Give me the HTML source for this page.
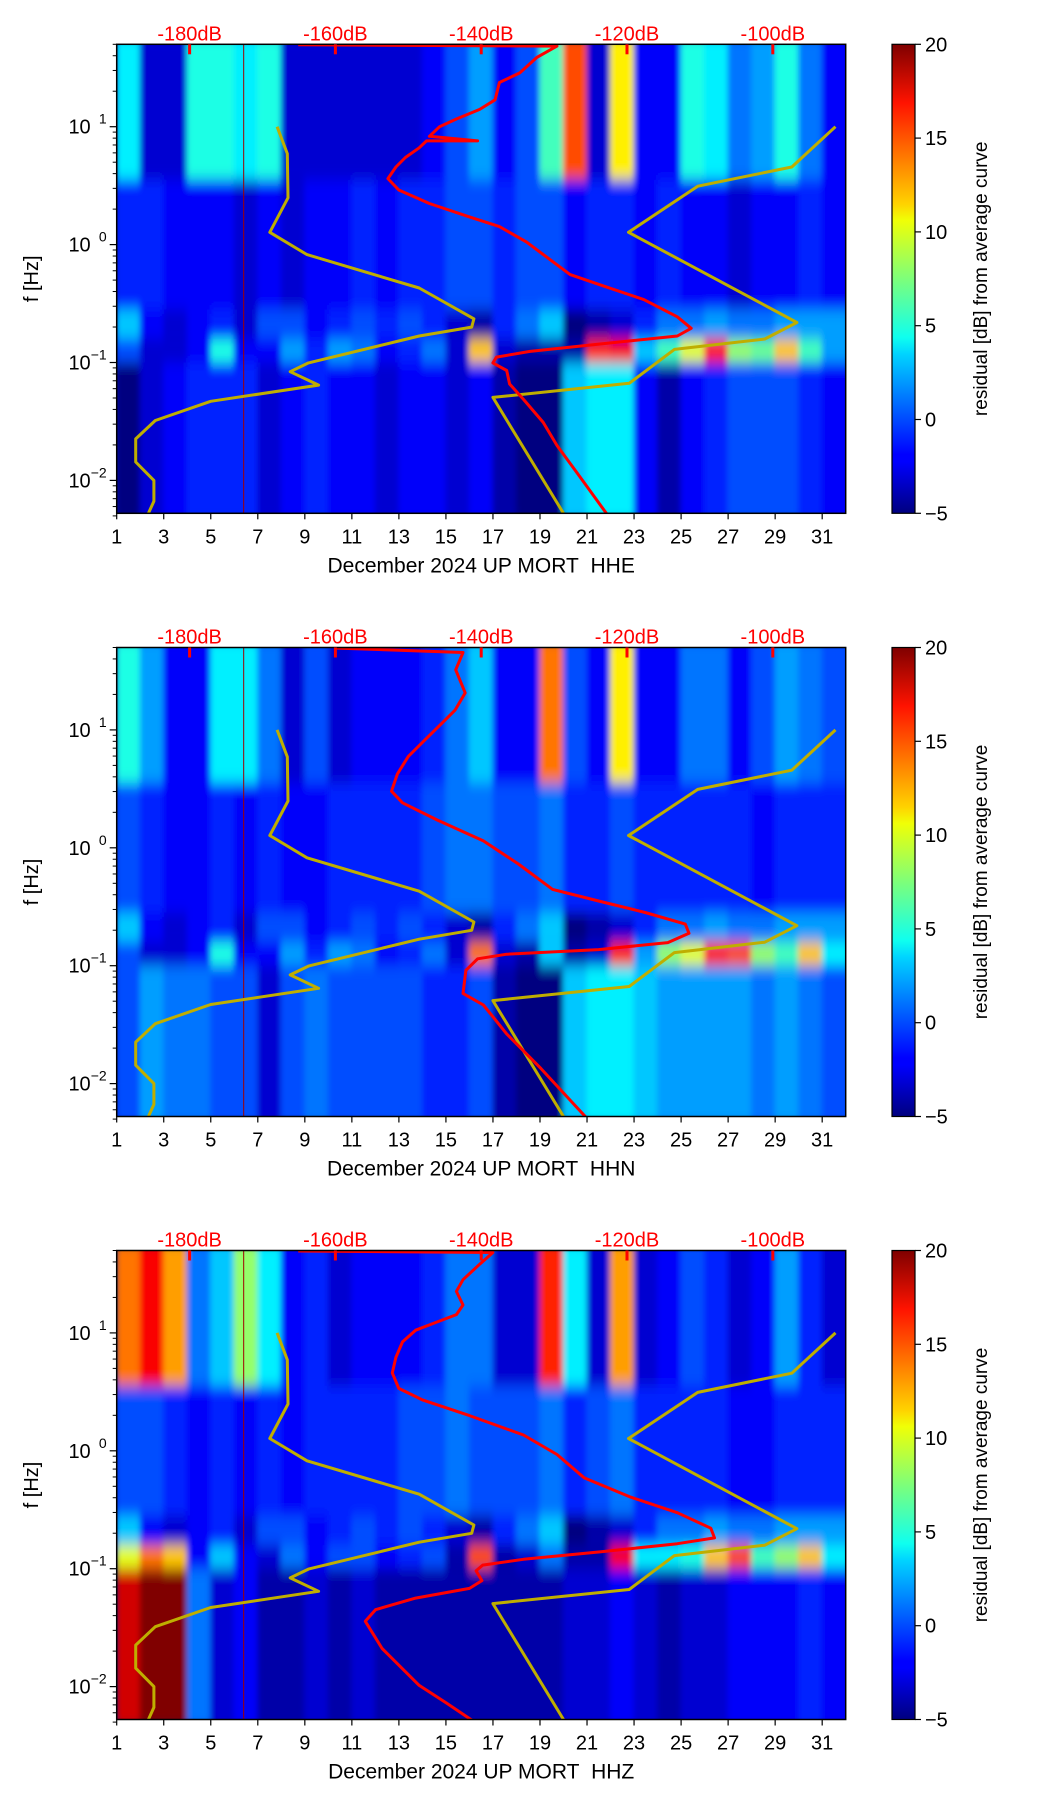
<!DOCTYPE html>
<html><head><meta charset="utf-8">
<style>
html,body{margin:0;padding:0;background:#fff;}
svg{display:block;font-family:"Liberation Sans","DejaVu Sans",sans-serif;}
</style></head>
<body>
<svg id="fig" width="1052" height="1806" viewBox="0 0 1052 1806" xmlns="http://www.w3.org/2000/svg">
<defs>
<filter id="soft" x="-5%" y="-5%" width="110%" height="110%"><feGaussianBlur stdDeviation="3 7"/></filter>
<linearGradient id="jetgrad" x1="0" y1="1" x2="0" y2="0">
<stop offset="0" stop-color="#00007f"/><stop offset="0.11" stop-color="#0000ff"/><stop offset="0.125" stop-color="#0000ff"/>
<stop offset="0.34" stop-color="#00d4ff"/><stop offset="0.375" stop-color="#0fffef"/><stop offset="0.5" stop-color="#7dff7a"/>
<stop offset="0.625" stop-color="#f0ff06"/><stop offset="0.66" stop-color="#ffd200"/><stop offset="0.875" stop-color="#ff1300"/>
<stop offset="1" stop-color="#7f0000"/></linearGradient>
</defs>
</svg>
<script>
// ---- data ----
const days = [1,2,3,4,5,6,7,8,9,10,11,12,13,14,15,16,17,18,19,20,21,22,23,24,25,26,27,28,29,30,31];
const bandEdges = [1.699, 0.55, -0.55, -0.8, -1.0, -2.279];
// HHE residuals per day per band
const hheHF    = [4,-3,-3,5,5,4,5,-3,-3,-3,-3,-3,-3,-2,0,2,-2,0,6,15,-3,11,-2,-2,5,4,1,2,5,1,-2];
const hheMid   = [-1,-1,-2,-2,-2,-3,-2,-3,-2,-2,-1,-2,-1,-1,0,0,-1,0,0,-2,-1,-1,-2,-1,-2,-2,-3,-2,-2,-1,-2];
const hheUpMic = [3,-2,-3,-2,-1,-3,0,0,-2,-1,0,-1,0,-1,-3,-4,-1,1,3,-5,-4,-3,-1,1,1,2,1,1,2,2,2];
const hheMic   = [0,-3,-3,-2,5,-2,-2,2,-1,2,1,-2,-1,1,-3,12,-3,-4,-4,-4,16,17,3,6,10,16,8,7,12,6,2];
const hheLow   = [-5,-3,-2,-1,-1,-1,-3,-2,-1,-2,-2,-3,-2,-2,-3,-2,-4,-5,-5,3,4,4,-2,-4,-2,-1,0,0,0,-1,-2];
// HHN
const hhnHF    = [5,2,-2,-2,4,4,1,-3,0,-3,-2,-2,-2,-1,1,3,-2,-2,14,0,-2,11,-2,-2,1,1,-2,0,2,1,0];
const hhnMid   = [0,-1,-2,-2,-1,-2,-1,-2,-2,-1,-1,-1,-1,0,1,1,0,0,1,-1,-1,0,-1,-1,-1,-1,-1,-2,-1,-1,-1];
const hhnUpMic = [3,-2,-3,-2,-1,-3,0,0,-2,-1,0,-1,0,-1,-3,-4,-1,1,3,-5,-4,-3,-1,1,1,2,1,1,2,2,2];
const hhnMic   = [0,-3,-3,-2,5,-2,-2,2,-1,2,1,-2,-1,1,-3,14,-3,-4,3,-4,-3,16,2,8,10,16,15,8,6,12,4];
const hhnLow   = [0,2,1,1,0,0,-3,0,1,0,0,0,0,-1,-1,0,-4,-5,-5,3,4,4,3,2,2,2,2,1,2,1,0];
// HHZ
const hhzHF    = [14,17,13,1,3,8,4,-2,-1,-3,-2,-2,-2,-1,1,1,-3,-3,16,4,-3,13,-3,-2,0,-1,-3,-2,2,-1,-3];
const hhzMid   = [0,0,-1,-2,-1,-2,-1,-2,-1,-1,-1,-1,0,0,1,0,0,0,1,-1,0,1,-1,-1,-1,-1,-2,-2,-1,-1,-1];
const hhzUpMic = [3,-2,-3,-2,-1,-3,0,0,-2,-1,0,-1,0,-1,-3,-4,-1,1,3,-5,-4,-3,-1,1,1,2,1,1,2,2,2];
const hhzMic   = [10,14,12,-2,3,-2,-3,1,-2,0,0,-2,-1,0,-4,15,-4,-3,1,-4,-4,17,4,4,5,12,15,6,8,12,4];
const hhzLow   = [18,20,20,1,-3,-2,-4,-4,-3,-4,-3,-4,-4,-4,-4,-4,-4,-4,-4,-3,-3,-2,-3,-4,-3,-3,-2,-2,-2,-1,-2];
// noise models (dB, log10 f)
const nlnmDb = [-168.0,-166.6,-166.5,-169.0,-163.9,-148.5,-141.0,-141.3,-148.5,-163.7,-166.2,-162.3,-177.1,-184.7,-187.4,-187.4,-184.9,-184.9,-185.8];
const nlnmLf = [1.0,0.772,0.397,0.104,-0.085,-0.368,-0.629,-0.700,-0.775,-1.003,-1.078,-1.192,-1.329,-1.492,-1.648,-1.844,-2.0,-2.176,-2.30];
const nhnmDb = [-91.4,-97.4,-110.3,-119.8,-96.7,-101.1,-113.5,-119.7,-138.4,-128.5];
const nhnmLf = [1.0,0.658,0.495,0.104,-0.661,-0.801,-0.889,-1.176,-1.296,-2.30];
// average curves
const hheRedDb = [-165.1,-129.6,-132.4,-134.7,-137.5,-138.1,-140.2,-143.4,-145.7,-147.1,-140.5,-147.5,-148.5,-150.4,-151.7,-152.8,-151.3,-147.1,-141.6,-137.5,-133.8,-131.0,-127.8,-123.2,-117.7,-113.1,-111.2,-113.1,-123.2,-133.3,-137.9,-138.4,-136.5,-136.1,-134.2,-131.5,-129.6,-126.9,-122.7];
const hheRedLf = [1.695,1.684,1.586,1.456,1.375,1.228,1.147,1.065,1.0,0.919,0.88,0.88,0.821,0.739,0.658,0.560,0.463,0.349,0.235,0.153,0.023,-0.107,-0.254,-0.352,-0.466,-0.612,-0.710,-0.775,-0.840,-0.906,-0.954,-1.003,-1.068,-1.182,-1.313,-1.508,-1.704,-1.932,-2.29];
const hhnRedDb = [-160.2,-142.5,-143.5,-142.2,-143.6,-145.2,-147.6,-150.0,-151.5,-152.3,-150.8,-146.0,-139.7,-134.9,-130.2,-123.9,-117.5,-112.0,-111.5,-114.4,-123.9,-136.5,-140.5,-142.1,-142.5,-139.7,-136.5,-131.8,-125.5];
const hhnRedLf = [1.695,1.657,1.51,1.314,1.167,1.069,0.922,0.775,0.627,0.480,0.382,0.235,0.059,-0.137,-0.353,-0.451,-0.549,-0.647,-0.725,-0.804,-0.863,-0.902,-0.941,-1.039,-1.235,-1.333,-1.578,-1.873,-2.294];
const hhzRedDb = [-165.1,-138.4,-140.2,-142.5,-143.4,-142.5,-143.4,-146.2,-149.0,-150.8,-151.7,-152.2,-151.3,-148.0,-141.6,-134.2,-129.6,-125.9,-119.5,-113.1,-108.5,-108.0,-113.1,-123.2,-134.2,-139.8,-140.7,-139.9,-141.6,-149.0,-154.5,-155.9,-153.6,-148.5,-144.8,-140.9];
const hhzRedLf = [1.695,1.682,1.583,1.451,1.352,1.237,1.155,1.089,1.023,0.924,0.793,0.661,0.529,0.430,0.299,0.134,-0.031,-0.228,-0.393,-0.525,-0.656,-0.739,-0.788,-0.854,-0.920,-0.969,-1.018,-1.101,-1.167,-1.249,-1.348,-1.446,-1.677,-1.990,-2.138,-2.30];
const xTicks = [1,3,5,7,9,11,13,15,17,19,21,23,25,27,29,31];
const dbTicks = [-180,-160,-140,-120,-100];
const yTickExp = [1,0,-1,-2];
const cbTicks = [20,15,10,5,0,-5];
const titles = ["December 2024 UP MORT\u00a0 HHE","December 2024 UP MORT\u00a0 HHN","December 2024 UP MORT\u00a0 HHZ"];

// ---- layout ----
const L=116.7, R=845.7, H=469, tops=[44.3,647.5,1250.5];
const DMIN=1, DMAX=32, LTOP=1.699, LBOT=-2.279, DBMIN=-190, DBMAX=-90;
const CBL=892, CBR=915, VMIN=-5, VMAX=20;
const NS="http://www.w3.org/2000/svg";
const svg=document.getElementById('fig');
function el(tag,attrs,parent){const e=document.createElementNS(NS,tag);for(const k in attrs)e.setAttribute(k,attrs[k]);(parent||svg).appendChild(e);return e;}
function jet(v){let t=(v-VMIN)/(VMAX-VMIN);t=Math.max(0,Math.min(1,t));
 const f=x=>Math.max(0,Math.min(1,x));
 const r=f(Math.min(4*t-1.5,-4*t+4.5)),g=f(Math.min(4*t-0.5,-4*t+3.5)),b=f(Math.min(4*t+0.5,-4*t+2.5));
 return `rgb(${Math.round(r*255)},${Math.round(g*255)},${Math.round(b*255)})`;}

const panels=[
 {bands:[hheHF,hheMid,hheUpMic,hheMic,hheLow],rDb:hheRedDb,rLf:hheRedLf,key:'hhe'},
 {bands:[hhnHF,hhnMid,hhnUpMic,hhnMic,hhnLow],rDb:hhnRedDb,rLf:hhnRedLf,key:'hhn'},
 {bands:[hhzHF,hhzMid,hhzUpMic,hhzMic,hhzLow],rDb:hhzRedDb,rLf:hhzRedLf,key:'hhz'}];

panels.forEach((p,pi)=>{
 const T=tops[pi], B=T+H;
 const X=d=>L+(d-DMIN)/(DMAX-DMIN)*(R-L);
 const Y=lf=>T+(LTOP-lf)/(LTOP-LBOT)*H;
 const XD=db=>L+(db-DBMIN)/(DBMAX-DBMIN)*(R-L);
 const g=el('g',{});
 
 
 const cp=el('clipPath',{id:'clip'+pi},g);
 el('rect',{x:L,y:T,width:R-L,height:H},cp);
 const cg=el('g',{'clip-path':`url(#clip${pi})`},g);
 el('rect',{x:L,y:T,width:R-L,height:H,fill:'#0010c0'},cg);
 const heat=el('g',{filter:'url(#soft)'},cg);
 
 
 p.bands.forEach((arr,bi)=>{
  arr.forEach((v,di)=>{
   const x0=X(days[di]), x1=X(days[di]+1);
   const y0=Y(bandEdges[bi]), y1=Y(bandEdges[bi+1]);
   const r=el('rect',{x:x0-0.5,y:y0-(bi==0?10:0),width:x1-x0+1+(di==30?10:0),height:y1-y0+(bi==0||bi==4?10:0),fill:jet(v)},heat);
   
   
  });
 });
 el('line',{x1:X(6.4),x2:X(6.4),y1:T,y2:B,stroke:'#a00000','stroke-width':1},cg);
 const path=(dbA,lfA)=>dbA.map((d,i)=>(i?'L':'M')+XD(d).toFixed(1)+','+Y(lfA[i]).toFixed(1)).join('');
 const ln=el('path',{d:path(nlnmDb,nlnmLf),fill:'none',stroke:'#bfae00','stroke-width':3,'stroke-linejoin':'round'},cg);
 
 const hn=el('path',{d:path(nhnmDb,nhnmLf),fill:'none',stroke:'#bfae00','stroke-width':3,'stroke-linejoin':'round'},cg);
 
 const rc=el('path',{d:path(p.rDb,p.rLf),fill:'none',stroke:'#ff0000','stroke-width':3,'stroke-linejoin':'round'},cg);
 
 el('rect',{x:L,y:T,width:R-L,height:H,fill:'none',stroke:'#000','stroke-width':1.5},g);
 xTicks.forEach(d=>{
  el('line',{x1:X(d),x2:X(d),y1:B,y2:B+6,stroke:'#000','stroke-width':1.2},g);
  const t=el('text',{x:X(d),y:B+30,'text-anchor':'middle','font-size':20,fill:'#000'},g);t.textContent=d;
  
 });
 const xt=el('text',{x:(L+R)/2,y:B+59,'text-anchor':'middle','font-size':21,fill:'#000'},g);xt.textContent=titles[pi];
 
 dbTicks.forEach(db=>{
  el('line',{x1:XD(db),x2:XD(db),y1:T,y2:T+10,stroke:'#ff0000','stroke-width':3},g);
  const t=el('text',{x:XD(db),y:T-4,'text-anchor':'middle','font-size':20,fill:'#ff0000'},g);t.textContent=db+'dB';
  
 });
 yTickExp.forEach(e=>{
  const y=Y(e);
  el('line',{x1:L-7,x2:L,y1:y,y2:y,stroke:'#000','stroke-width':1.2},g);
  const t=el('text',{x:L-26,y:y+7,'text-anchor':'end','font-size':20,fill:'#000'},g);t.textContent='10';
  
  const s=el('text',{x:L-10,y:y-3,'text-anchor':'end','font-size':14,fill:'#000'},g);s.textContent=e<0?'\u2212'+(-e):e;
  for(let m=2;m<=9;m++){const lf=e+Math.log10(m);if(lf<LTOP)el('line',{x1:L-4,x2:L,y1:Y(lf),y2:Y(lf),stroke:'#000','stroke-width':1},g);}
 });
 for(let m=5;m<=9;m++)el('line',{x1:L-4,x2:L,y1:Y(-3+Math.log10(m)),y2:Y(-3+Math.log10(m)),stroke:'#000','stroke-width':1},g);
 const yl=el('text',{x:0,y:0,transform:`translate(38,${T+H/2}) rotate(-90)`,'text-anchor':'middle','font-size':20,fill:'#000'},g);yl.textContent='f [Hz]';
 
 const cb=el('rect',{x:CBL,y:T,width:CBR-CBL,height:H,fill:'url(#jetgrad)',stroke:'#000','stroke-width':1.2},g);
 
 cbTicks.forEach(v=>{
  const y=B-(v-VMIN)/(VMAX-VMIN)*H;
  el('line',{x1:CBR,x2:CBR+6,y1:y,y2:y,stroke:'#000','stroke-width':1.2},g);
  const t=el('text',{x:CBR+10,y:y+7,'font-size':20,fill:'#000'},g);t.textContent=v<0?'\u2212'+(-v):v;
  
 });
 const cl=el('text',{x:0,y:0,transform:`translate(987,${T+H/2}) rotate(-90)`,'text-anchor':'middle','font-size':19,fill:'#000'},g);cl.textContent='residual [dB] from average curve';
 
});
</script>
</body></html>
